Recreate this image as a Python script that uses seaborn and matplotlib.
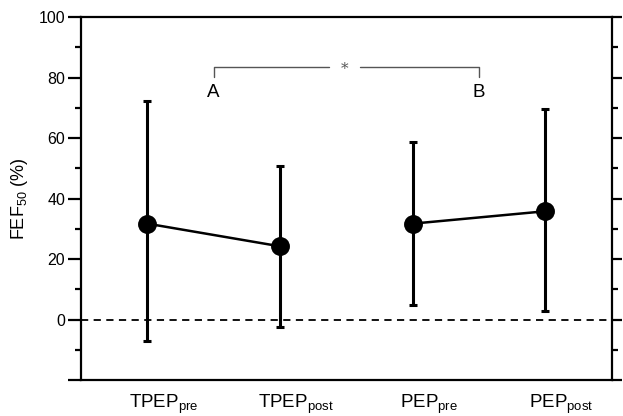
import matplotlib
matplotlib.use("Agg")
import matplotlib.pyplot as plt
import matplotlib.transforms as mtransforms
import seaborn as sns
import pandas as pd
import numpy as np

# ---- data ----
conditions = ["TPEP_pre", "TPEP_post", "PEP_pre", "PEP_post"]
tick_labels = [r"TPEP$_{\mathregular{pre}}$", r"TPEP$_{\mathregular{post}}$",
               r"PEP$_{\mathregular{pre}}$", r"PEP$_{\mathregular{post}}$"]
groups = ["TPEP", "TPEP", "PEP", "PEP"]
means = [31.7, 24.2, 31.7, 35.8]
upper = [72.1, 50.6, 58.8, 69.5]
lower = [-7.2, -2.5, 4.9, 2.7]
y_major = [-20, 0, 20, 40, 60, 80, 100]
y_major_labels = ["", "0", "20", "40", "60", "80", "100"]
y_minor = [-10, 10, 30, 50, 70, 90]

sns.set_theme(style="white")
plt.rcParams["font.family"] = ["Liberation Sans", "DejaVu Sans"]
plt.rcParams["mathtext.fontset"] = "custom"
plt.rcParams["mathtext.rm"] = "Liberation Sans"
plt.rcParams["mathtext.it"] = "Liberation Sans"
plt.rcParams["mathtext.default"] = "regular"
plt.rcParams["text.color"] = "black"
plt.rcParams["axes.labelcolor"] = "black"
plt.rcParams["xtick.color"] = "black"
plt.rcParams["ytick.color"] = "black"

df = pd.DataFrame({"pos": np.arange(len(conditions)), "cond": conditions,
                   "group": groups, "mean": means,
                   "upper": upper, "lower": lower})

fig = plt.figure(figsize=(6.23, 4.16), dpi=100)
ax = fig.add_axes([0.130, 0.0865, 0.852, 0.8725])

# error bars
ax.errorbar(df["pos"], df["mean"],
            yerr=[df["mean"] - df["lower"], df["upper"] - df["mean"]],
            fmt="none", ecolor="black", elinewidth=2.2, capsize=3.2, capthick=2.2,
            zorder=2)

# connecting lines within each group
sns.lineplot(data=df, x="pos", y="mean", units="group", estimator=None,
             color="black", linewidth=1.8, ax=ax, zorder=3, sort=False)
sns.scatterplot(data=df, x="pos", y="mean", color="black", s=185,
                edgecolor="black", linewidth=0, ax=ax, zorder=4)

ax.axhline(0, color="black", linestyle=(0, (4, 3)), linewidth=1.3, zorder=1)

ax.set_xlim(-0.5, 3.5)
ax.set_ylim(-20, 100)

# category labels (shifted right of the data positions as in the original)
ax.set_xticks(df["pos"])
ax.set_xticklabels([])
ax.tick_params(axis="x", length=0)
lab_tr = mtransforms.blended_transform_factory(ax.transData, ax.transAxes) + \
    mtransforms.ScaledTranslation(16 / 100, -13 / 100, fig.dpi_scale_trans)
for p, lab in zip(df["pos"], tick_labels):
    ax.text(p, 0, lab, transform=lab_tr, ha="center", va="top",
            fontsize=13.5, color="black")

ax.set_yticks(y_major)
ax.set_yticklabels(y_major_labels, fontsize=11.5)
ax.set_yticks(y_minor, minor=True)
ax.tick_params(axis="y", which="major", direction="out", length=9.5, width=1.6,
               color="black", labelcolor="black", left=True, pad=2)
ax.tick_params(axis="y", which="minor", direction="out", length=4.5, width=1.6,
               color="black", left=True)

ax.set_xlabel("")
ax.set_ylabel(r"FEF$_{50}$ (%)", fontsize=13, labelpad=6, color="black")

for s in ["left", "right", "top", "bottom"]:
    ax.spines[s].set_visible(True)
    ax.spines[s].set_color("black")
    ax.spines[s].set_linewidth(1.6)

# right-side ticks
ax2 = ax.twinx()
ax2.set_ylim(ax.get_ylim())
ax2.set_yticks(y_major)
ax2.set_yticklabels([])
ax2.set_yticks(y_minor, minor=True)
ax2.tick_params(axis="y", which="major", direction="out", length=7.5, width=1.6,
                color="black")
ax2.tick_params(axis="y", which="minor", direction="out", length=4.5, width=1.6,
                color="black")
ax2.grid(False)
for s in ax2.spines.values():
    s.set_visible(False)

# significance bracket
bx0, bx1, by, bdrop = 0.5, 2.5, 83.4, 80.3
ax.plot([bx0, bx0, 1.37], [bdrop, by, by], color="#555555", linewidth=1.0,
        clip_on=False)
ax.plot([1.6, bx1, bx1], [by, by, bdrop], color="#555555", linewidth=1.0,
        clip_on=False)
ax.text(1.485, by - 0.6, "*", ha="center", va="center", fontsize=11,
        color="#555555", family="DejaVu Serif")
ax.text(bx0, 75.2, "A", ha="center", va="center", fontsize=13.5, color="black")
ax.text(bx1, 75.2, "B", ha="center", va="center", fontsize=13.5, color="black")

ax.grid(False)
fig.savefig("out.png", dpi=100)
